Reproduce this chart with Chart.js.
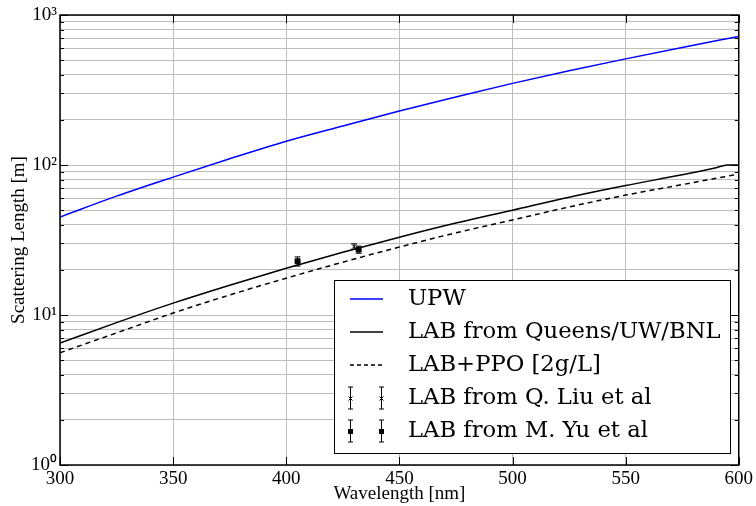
<!DOCTYPE html>
<html>
<head>
<meta charset="utf-8">
<script src="https://cdn.jsdelivr.net/npm/chart.js@4"></script>
<style>
body{margin:0;background:#fff;}
</style>
</head>
<body>
<canvas id="scatChart" width="756" height="506"></canvas>
<script>
// wavelength grid [nm] and scattering lengths [m]
var wave = [300,325,350,375,400,425,450,475,500,525,550,575,600];
var upw = [45,62,83,110,144,182,229,284,350,425,510,608,720];
var labWave = [300,325,350,375,400,425,450,475,500,525,550,575,590,595,600];
var labQueens = [6.5,8.9,12,15.8,20.5,26.2,33,41,50,61,73,86,96,100,100];
var labPpo = [5.6,7.6,10.3,13.6,17.6,22.5,28.4,35.3,43,52.5,63,74,87];

// point measurements with error bars
var liuX = [430];
var liuY = [28.6];
var liuErr = [1.2];
var yuX = [405,432];
var yuY = [22.8,27.3];
var yuErr = [1.6,1.5];

var xTicks = [300,350,400,450,500,550,600];
var yDecades = [1,10,100,1000];
var yLabels = ['10\u2070','10\u00b9','10\u00b2','10\u00b3'];

var legendItems = ['UPW','LAB from Queens/UW/BNL','LAB+PPO [2g/L]','LAB from Q. Liu et al','LAB from M. Yu et al'];

function pts(xs, ys){
    return xs.map(function(x,i){ return {x:x, y:ys[i]}; });
}

var yTickVals = [];
yDecades.forEach(function(d){
    if(d == 1000){ yTickVals.push(d); return; }
    for(var k=1;k<10;k++) yTickVals.push(d*k);
});

var serif = 'Liberation Serif';

var errorBars = {
    id: 'errorBars',
    afterDatasetsDraw: function(chart){
        var ctx = chart.ctx, xs = chart.scales.x, ys = chart.scales.y;
        var sets = [[liuX,liuY,liuErr],[yuX,yuY,yuErr]];
        ctx.save();
        ctx.strokeStyle = '#000';
        ctx.lineWidth = 1;
        sets.forEach(function(s){
            s[0].forEach(function(x,i){
                var px = xs.getPixelForValue(x);
                var top = ys.getPixelForValue(s[1][i]+s[2][i]);
                var bot = ys.getPixelForValue(s[1][i]-s[2][i]);
                ctx.beginPath();
                ctx.moveTo(px,top); ctx.lineTo(px,bot);
                ctx.moveTo(px-3,top); ctx.lineTo(px+3,top);
                ctx.moveTo(px-3,bot); ctx.lineTo(px+3,bot);
                ctx.stroke();
            });
        });
        ctx.restore();
    }
};

var frame = {
    id: 'frame',
    afterDraw: function(chart){
        var ctx = chart.ctx, a = chart.chartArea;
        var xs = chart.scales.x, ys = chart.scales.y;
        ctx.save();
        ctx.strokeStyle = '#000';
        ctx.lineWidth = 1;
        ctx.beginPath();
        // inward ticks
        xTicks.forEach(function(v){
            var px = Math.round(xs.getPixelForValue(v))+0.5;
            ctx.moveTo(px,a.bottom); ctx.lineTo(px,a.bottom-8);
            ctx.moveTo(px,a.top); ctx.lineTo(px,a.top+8);
        });
        yTickVals.forEach(function(v){
            var py = Math.round(ys.getPixelForValue(v))+0.5;
            var len = yDecades.indexOf(v) >= 0 ? 8 : 4;
            ctx.moveTo(a.left,py); ctx.lineTo(a.left+len,py);
            ctx.moveTo(a.right,py); ctx.lineTo(a.right-len,py);
        });
        ctx.stroke();
        ctx.lineWidth = 1.5;
        ctx.strokeRect(a.left, a.top, a.right-a.left, a.bottom-a.top);

        // legend box
        var bx = 334, by = 280, bw = 396, bh = 173;
        ctx.fillStyle = '#fff';
        ctx.fillRect(bx,by,bw,bh);
        ctx.lineWidth = 1;
        ctx.strokeRect(bx+0.5,by+0.5,bw,bh);
        ctx.font = '22.7px "DejaVu Serif"';
        ctx.textBaseline = 'middle';
        legendItems.forEach(function(t,i){
            var ry = by + 19 + i*33;
            ctx.fillStyle = '#000';
            ctx.fillText(t, 408, ry);
            ctx.beginPath();
            if(i < 3){
                ctx.strokeStyle = i == 0 ? '#0000ff' : '#000';
                ctx.lineWidth = 1.5;
                ctx.setLineDash(i == 2 ? [4,3] : []);
                ctx.moveTo(350,ry); ctx.lineTo(383,ry);
                ctx.stroke();
                ctx.setLineDash([]);
            } else {
                ctx.strokeStyle = '#000';
                ctx.lineWidth = 1;
                [350,381].forEach(function(mx){
                    ctx.beginPath();
                    ctx.moveTo(mx+0.5,ry-11); ctx.lineTo(mx+0.5,ry+11);
                    ctx.moveTo(mx-2,ry-11); ctx.lineTo(mx+3,ry-11);
                    ctx.moveTo(mx-2,ry+11); ctx.lineTo(mx+3,ry+11);
                    ctx.stroke();
                    if(i == 4){
                        ctx.fillRect(mx-2,ry-2,5,5);
                    } else {
                        ctx.beginPath();
                        ctx.moveTo(mx-1.5,ry-1.5); ctx.lineTo(mx+2.5,ry+2.5);
                        ctx.moveTo(mx+2.5,ry-1.5); ctx.lineTo(mx-1.5,ry+2.5);
                        ctx.stroke();
                    }
                });
            }
        });
        ctx.restore();
    }
};

function makechart(){
    let el = document.getElementById('scatChart');
    new Chart(el, {
        type: 'line',
        data: {
            datasets: [{
                label: legendItems[0],
                data: pts(wave, upw),
                borderColor: '#0000ff',
                borderWidth: 1.5,
            },{
                label: legendItems[1],
                data: pts(labWave, labQueens),
                borderColor: '#000',
                borderWidth: 1.5,
            },{
                label: legendItems[2],
                data: pts(wave, labPpo),
                borderColor: '#000',
                borderWidth: 1.5,
                borderDash: [5,4],
            },{
                label: legendItems[3],
                data: pts(liuX, liuY),
                showLine: false,
                pointStyle: 'crossRot',
                pointRadius: 3,
                borderColor: '#000',
                borderWidth: 1,
            },{
                label: legendItems[4],
                data: pts(yuX, yuY),
                showLine: false,
                pointStyle: 'rect',
                pointRadius: 3.5,
                backgroundColor: '#000',
                borderColor: '#000',
            }]
        },
        options: {
            responsive: false,
            animation: false,
            devicePixelRatio: 1,
            layout: { padding: { top: 15, right: 15, left: 0, bottom: 0 } },
            elements: {
                line: { cubicInterpolationMode: 'monotone', fill: false },
                point: { radius: 0 }
            },
            plugins: {
                legend: { display: false },
                tooltip: { enabled: false }
            },
            scales: {
                x: {
                    type: 'linear',
                    min: 300, max: 600,
                    afterFit: function(s){ s.height = 41; },
                    afterBuildTicks: function(s){ s.ticks = xTicks.map(function(v){ return {value:v}; }); },
                    grid: { color: '#bdbdbd', drawTicks: false },
                    border: { display: false },
                    ticks: { color: '#000', padding: 3, font: { family: serif, size: 19 } },
                    title: { display: true, text: 'Wavelength [nm]', color: '#000', padding: { top: 0, bottom: 1 }, font: { family: serif, size: 19 } }
                },
                y: {
                    type: 'logarithmic',
                    min: 1, max: 1000,
                    afterFit: function(s){ s.width = 60; },
                    afterBuildTicks: function(s){ s.ticks = yTickVals.map(function(v){ return {value:v}; }); },
                    grid: { color: '#bdbdbd', drawTicks: false },
                    border: { display: false },
                    ticks: {
                        color: '#000', padding: 3, autoSkip: false,
                        font: { family: serif, size: 19 },
                        callback: function(v){
                            var i = yDecades.indexOf(v);
                            return i >= 0 ? yLabels[i] : '';
                        }
                    },
                    title: { display: true, text: 'Scattering Length [m]', color: '#000', padding: { top: 8, bottom: 0 }, font: { family: serif, size: 19 } }
                }
            }
        },
        plugins: [errorBars, frame]
    });
}
makechart();
</script>
</body>
</html>
